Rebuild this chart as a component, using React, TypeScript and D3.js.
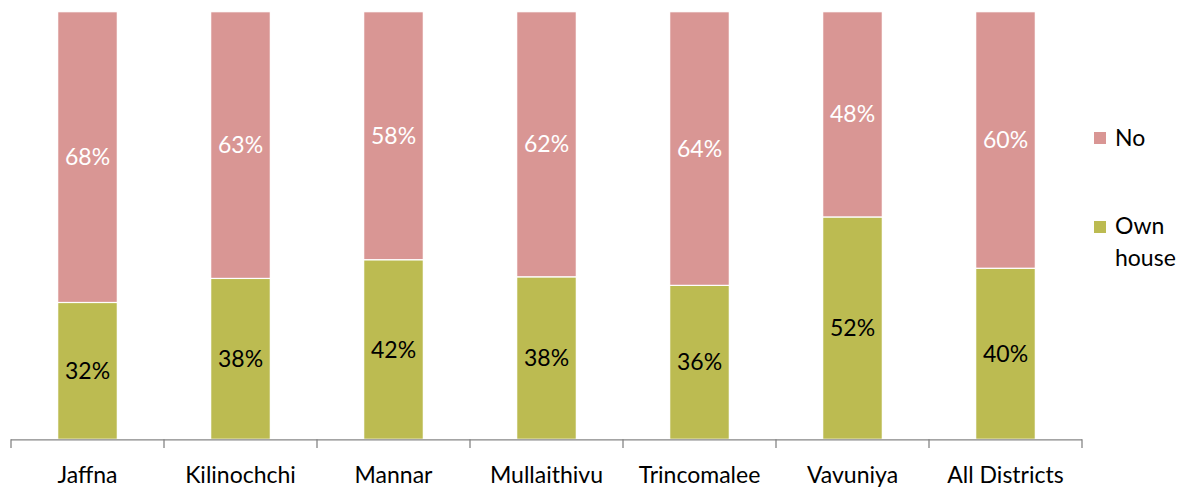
import React from "react";
import * as d3 from "d3";

const districts = ["Jaffna", "Kilinochchi", "Mannar", "Mullaithivu", "Trincomalee", "Vavuniya", "All Districts"];
const ownHouse = [32, 38, 42, 38, 36, 52, 40];
const noHouse = [68, 63, 58, 62, 64, 48, 60];
const seriesNames = ["Own house", "No"];

const W = 1189;
const H = 488;
const M = { left: 11, right: 1082, top: 11.7, bottom: 439.3 };
const COLORS: Record<string, string> = { "Own house": "#BCBB51", No: "#D99694" };
const TEXT_COLORS: Record<string, string> = { "Own house": "#000000", No: "#FFFFFF" };
const FONT = "Lato, 'Open Sans', sans-serif";
const FS = 23;

export default function App() {
  const rows = districts.map((d, i) => ({ district: d, "Own house": ownHouse[i], No: noHouse[i] }));
  const stack = d3.stack<any>().keys(seriesNames).offset(d3.stackOffsetExpand);
  const series = stack(rows);

  const x = d3.scaleBand<string>().domain(districts).range([M.left, M.right]).paddingInner(0.61).paddingOuter(0.305);
  const y = d3.scaleLinear().domain([0, 1]).range([M.bottom, M.top]);
  const step = x.step();
  const tickXs = d3.range(districts.length + 1).map((i) => M.left + i * step);

  return (
    <svg width={W} height={H} style={{ position: "absolute", left: 0, top: 0 }} fontFamily={FONT}>
      <rect width={W} height={H} fill="#fff" />
      {series.map((s) => (
        <g key={s.key}>
          {s.map((d, i) => {
            const y0 = y(d[0]);
            const y1 = y(d[1]);
            const val = s.key === "No" ? noHouse[i] : ownHouse[i];
            return (
              <g key={i}>
                <rect
                  x={x(districts[i])!}
                  y={y1}
                  width={x.bandwidth()}
                  height={y0 - y1}
                  fill={COLORS[s.key]}
                  stroke="#fff"
                  strokeWidth={1.2}
                />
                <text
                  x={x(districts[i])! + x.bandwidth() / 2}
                  y={(y0 + y1) / 2}
                  dy="0.35em"
                  textAnchor="middle"
                  fontSize={FS}
                  fill={TEXT_COLORS[s.key]}
                >
                  {val}%
                </text>
              </g>
            );
          })}
        </g>
      ))}
      <line x1={M.left} x2={M.right} y1={M.bottom + 0.5} y2={M.bottom + 0.5} stroke="#868686" strokeWidth={1.3} />
      {tickXs.map((tx, i) => (
        <line key={i} x1={tx} x2={tx} y1={M.bottom} y2={448} stroke="#868686" strokeWidth={1.3} />
      ))}
      {districts.map((d) => (
        <text key={d} x={x(d)! + x.bandwidth() / 2} y={483} textAnchor="middle" fontSize={FS} fill="#000">
          {d}
        </text>
      ))}
      <g>
        <rect x={1094} y={132} width={12} height={12} fill={COLORS.No} />
        <text x={1115} y={146} fontSize={FS} fill="#000">No</text>
        <rect x={1094} y={221} width={12} height={12} fill={COLORS["Own house"]} />
        <text x={1115} y={234} fontSize={FS} fill="#000">Own</text>
        <text x={1115} y={266} fontSize={FS} fill="#000">house</text>
      </g>
    </svg>
  );
}
